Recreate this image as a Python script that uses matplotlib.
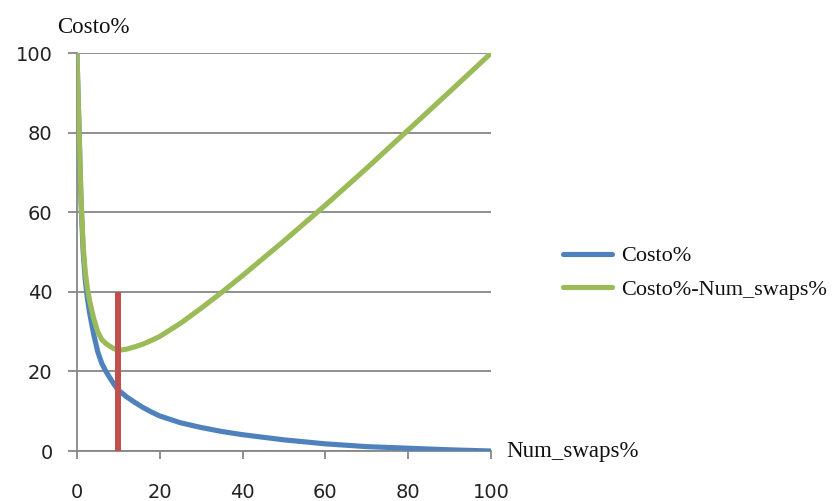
import matplotlib.pyplot as plt

# costo% vs num_swaps%
num_swaps = [0, 0.25, 0.5, 0.75, 1, 1.5, 2, 2.5, 3, 4, 5, 6, 7, 8, 9, 10,
             12, 14, 16, 18, 20, 25, 30, 35, 40, 50, 60, 70, 80, 90, 100]
costo = [100, 90, 81, 71, 62, 50, 43, 38.5, 35, 29.5, 25, 22, 20, 18.3,
         16.7, 15.3, 13.6, 12.2, 10.9, 9.8, 8.8, 7.1, 5.9, 4.9, 4.1, 2.8,
         1.8, 1.1, 0.7, 0.3, 0]
costo_swaps = [100, 90.3, 81.5, 71.8, 63, 51.5, 45, 41, 38, 33.5, 30, 28,
               27, 26.3, 25.7, 25.3, 25.6, 26.2, 26.9, 27.8, 28.8, 32.1,
               35.9, 39.9, 44.1, 52.8, 61.8, 71.1, 80.7, 90.3, 100]

corte_x = 10
corte_y = [0, 40]

x_ticks = [0, 20, 40, 60, 80, 100]
y_ticks = [0, 20, 40, 60, 80, 100]

azul = '#4F81BD'
verde = '#9BBB59'
rojo = '#C0504D'
gris = '#878787'
serif = 'Liberation Serif'

fig = plt.figure(figsize=(8.34, 5.01), dpi=100)
ax = fig.add_axes([0.0923, 0.0998, 0.4964, 0.794])

ax.plot(num_swaps, costo, color=azul, lw=3.7, label='Costo%',
        solid_capstyle='round', solid_joinstyle='round', zorder=3)
ax.plot(num_swaps, costo_swaps, color=verde, lw=3.7,
        label='Costo%-Num_swaps%', solid_capstyle='round',
        solid_joinstyle='round', zorder=3)
ax.plot([corte_x, corte_x], corte_y, color=rojo, lw=4.3, zorder=4,
        solid_capstyle='butt')

ax.set_xlim(0, 100)
ax.set_ylim(0, 100)
ax.set_xticks(x_ticks)
ax.set_yticks(y_ticks)

for s in ['top', 'right']:
    ax.spines[s].set_visible(False)
for s in ['left', 'bottom']:
    ax.spines[s].set_color(gris)
    ax.spines[s].set_linewidth(1.3)

ax.yaxis.grid(True, color=gris, lw=1.3)
ax.set_axisbelow(True)
ax.tick_params(axis='y', direction='out', length=6.5, width=1.3,
               color=gris, pad=11, labelsize=14, labelcolor='#222222')
ax.tick_params(axis='x', direction='out', length=6, width=1.3,
               color=gris, pad=17, labelsize=14, labelcolor='#222222')

fig.text(0.068, 0.925, 'Costo%', family=serif, fontsize=16.5,
         ha='left', va='bottom', color='#111111')
fig.text(0.607, 0.0998, 'Num_swaps%', family=serif, fontsize=16.5,
         ha='left', va='center', color='#111111')

leg = ax.legend(loc='center left', bbox_to_anchor=(0.662, 0.455),
                bbox_transform=fig.transFigure, frameon=False,
                prop={'family': serif, 'size': 16}, handlelength=2.2,
                handletextpad=0.4, labelspacing=0.6, borderpad=0)
for t in leg.get_texts():
    t.set_color('#111111')

fig.savefig('out.png', dpi=100)
